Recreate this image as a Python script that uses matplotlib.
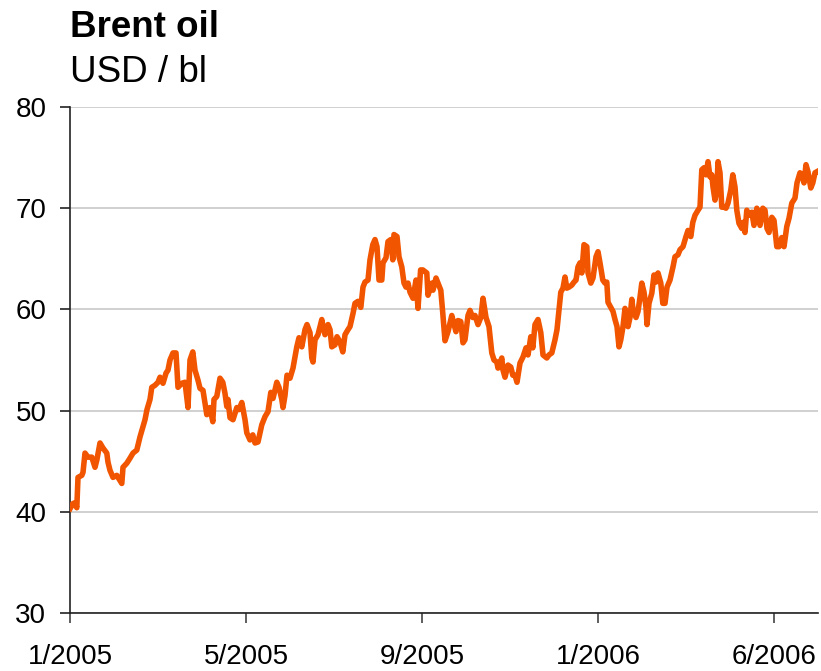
import matplotlib
matplotlib.use("Agg")
import matplotlib.pyplot as plt

# (trading day since 3 Jan 2005, Brent USD/bl)
readings = [
    (0, 40.3), (1.4, 40.8), (2.5, 40.9), (3.4, 40.4), (4, 43.4), (5.9, 43.6),
    (6.5, 43.9), (7.5, 45.8), (9, 45.4), (10.9, 45.4), (12.5, 44.4), (13.4, 45.1),
    (15, 46.8), (16.5, 46.3), (18.4, 45.8), (19, 44.9), (20, 44.1), (21.5, 43.4),
    (23.4, 43.6), (25, 43.1), (25.9, 42.8), (26.5, 44.4), (28.4, 44.8), (30, 45.3),
    (31.5, 45.8), (33.4, 46.1), (35, 47.4), (36.5, 48.4), (37.5, 49.1), (38.5, 50.1),
    (40, 51.1), (40.9, 52.3), (42.5, 52.5), (44, 52.8), (45, 53.3), (46.5, 52.7),
    (48, 53.7), (49, 54.0), (50, 55.0), (51.5, 55.7), (53, 55.7), (54, 52.3),
    (55.9, 52.7), (57.5, 52.8), (59, 50.3), (60, 55.0), (61.4, 55.8), (62.5, 54.0),
    (64, 53.0), (65, 52.2), (66.5, 52.0), (67.5, 50.7), (68.4, 49.6), (70, 50.3),
    (71.4, 48.9), (72, 51.1), (73.4, 51.4), (75, 53.2), (76.4, 52.8), (77.5, 51.7),
    (78.4, 50.4), (79, 51.1), (80, 49.3), (81.5, 49.1), (83.4, 50.3), (84.5, 50.1),
    (85.9, 50.8), (87.5, 49.1), (88.4, 47.8), (90, 47.1), (91.4, 47.6), (92.5, 46.8),
    (94, 46.9), (95, 47.8), (95.9, 48.6), (97.5, 49.4), (99, 49.9), (100.4, 51.8),
    (101.5, 51.2), (103.4, 52.8), (104.5, 52.3), (105.9, 51.1), (106.5, 50.3),
    (107.5, 51.5), (108.5, 53.5), (110, 53.2), (111.5, 54.2), (113.4, 56.3),
    (114.5, 57.2), (115.9, 56.3), (117.5, 58.0), (118.5, 58.5), (120, 57.7),
    (120.9, 55.2), (121.5, 54.8), (122.5, 57.0), (124, 57.5), (125.9, 59.0),
    (126.5, 58.3), (127.5, 57.5), (129, 58.5), (130, 58.0), (130.9, 56.3),
    (132.5, 56.5), (133.5, 57.3), (135, 56.8), (136.4, 55.8), (137.5, 57.5),
    (139, 58.0), (140, 58.3), (141.5, 59.6), (142.5, 60.6), (144, 60.8),
    (145.4, 60.2), (146.5, 62.2), (147.5, 62.7), (149, 62.9), (150, 64.9),
    (151.4, 66.4), (152.5, 66.9), (153.5, 66.2), (154.5, 62.9), (155.9, 62.9),
    (156.5, 64.6), (158, 65.1), (159, 66.7), (160.4, 66.9), (161.4, 64.9),
    (162, 67.4), (163.5, 67.2), (164.5, 65.2), (165.9, 64.2), (167, 62.6),
    (168, 62.2), (169, 62.6), (170, 61.7), (171.5, 61.1), (173, 62.9), (174, 60.1),
    (175.3, 63.9), (176.4, 63.9), (178.4, 63.6), (179, 61.4), (180.9, 62.6),
    (181.5, 61.9), (183, 63.1), (184, 62.6), (185.4, 61.9), (186.4, 59.6),
    (187.5, 56.9), (189, 57.8), (190.9, 59.4), (191.5, 58.9), (193, 57.8),
    (194, 58.9), (195.4, 58.8), (196.5, 56.7), (197.5, 57.0), (199, 59.4),
    (200, 59.9), (201.4, 59.2), (202.5, 59.4), (204, 58.5), (205.4, 59.2),
    (206.5, 61.1), (208, 59.2), (209.5, 58.3), (210.9, 55.7), (212, 55.0),
    (213.4, 54.8), (214, 54.2), (215.9, 55.2), (216.5, 54.0), (217.5, 53.3),
    (219, 54.5), (220.4, 54.3), (221.4, 53.5), (222.5, 53.5), (223.5, 52.8),
    (225, 54.7), (226.5, 55.3), (228, 56.2), (229, 55.5), (230.4, 57.3),
    (231.4, 56.2), (232.5, 58.5), (234, 59.0), (235.4, 57.7), (236.5, 55.5),
    (238.4, 55.2), (239.5, 55.5), (240.9, 55.7), (242.5, 57.0), (243.5, 58.0),
    (244.5, 60.0), (245.4, 61.7), (246.5, 62.1), (247.5, 63.2), (248.4, 62.1),
    (249.5, 62.2), (250.9, 62.4), (252, 62.7), (253, 62.9), (254, 64.2),
    (255, 64.6), (255.9, 63.6), (257, 66.4), (258.4, 66.2), (259, 63.6),
    (260.4, 62.6), (261.5, 63.1), (263, 65.2), (264, 65.7), (265, 64.6),
    (266.4, 62.9), (267.5, 62.6), (268.4, 62.7), (269, 60.7), (270.4, 60.2),
    (271.5, 59.8), (272.5, 59.0), (273.5, 58.3), (274.5, 56.3), (275.4, 57.0),
    (276.5, 58.3), (277.5, 60.1), (278.4, 59.2), (279, 58.3), (280, 59.2),
    (280.9, 61.0), (281.5, 60.0), (283, 59.2), (284, 59.8), (285, 61.2),
    (285.9, 62.6), (287, 61.7), (288, 60.2), (288.5, 58.5), (289.5, 60.6),
    (290.9, 61.6), (292, 63.4), (293, 62.7), (294, 63.6), (295.4, 62.6),
    (296.4, 60.6), (297.5, 60.6), (298.5, 62.2), (300, 62.9), (301.5, 64.2),
    (302.5, 65.2), (304, 65.4), (305, 65.9), (306.5, 66.2), (308, 67.2),
    (309, 67.8), (310.4, 67.2), (311.4, 68.6), (312.5, 69.3), (314, 69.8),
    (315, 70.1), (315.9, 73.8), (317, 74.0), (318, 73.3), (319, 74.6),
    (320, 73.1), (320.9, 73.3), (321.5, 72.1), (322.5, 70.8), (323.4, 71.8),
    (324, 74.6), (325, 73.5), (325.9, 70.1), (327, 70.1), (328, 70.0),
    (329, 70.5), (330.4, 71.8), (331.4, 73.3), (332.5, 72.1), (333.4, 69.8),
    (334.5, 68.5), (335.9, 68.0), (336.5, 68.6), (337.5, 67.6), (338.4, 69.8),
    (339.5, 69.3), (340.9, 69.6), (342, 68.3), (343.4, 70.0), (344, 69.6),
    (345, 68.3), (346.4, 70.0), (347.5, 69.8), (348.5, 68.0), (349.5, 67.6),
    (350.9, 69.1), (352, 68.8), (353.4, 66.2), (354.5, 66.2), (355.9, 67.1),
    (357, 66.2), (358.4, 68.2), (359.5, 69.0), (360.9, 70.5), (362.5, 71.0),
    (363.5, 72.5), (365, 73.5), (366.4, 73.1), (367, 72.5), (368, 74.3),
    (369, 73.6), (370.4, 72.0), (371.4, 72.5), (372.5, 73.5), (373.4, 73.6),
]
days = [d for d, _ in readings]
brent = [v for _, v in readings]

tick_days = [0, 88, 176, 264, 352]
tick_labels = ["1/2005", "5/2005", "9/2005", "1/2006", "6/2006"]
y_ticks = [30, 40, 50, 60, 70, 80]

plt.rcParams["font.family"] = ["Liberation Sans", "DejaVu Sans"]

fig = plt.figure(figsize=(8.21, 6.71), dpi=100)
ax = fig.add_axes([70 / 821, 1 - 613 / 671, 748 / 821, 506 / 671])

ax.plot(days, brent, color="#F25500", linewidth=4.0, solid_joinstyle="round",
        zorder=3)

ax.set_xlim(0, 374)
ax.set_ylim(30, 80)
ax.set_yticks(y_ticks)
ax.set_xticks(tick_days)
ax.set_xticklabels(tick_labels)
ax.yaxis.grid(True, color="#c8c8c8", linewidth=1.2)
ax.set_axisbelow(True)

for s in ["top", "right"]:
    ax.spines[s].set_visible(False)
for s in ["left", "bottom"]:
    ax.spines[s].set_color("#222222")
    ax.spines[s].set_linewidth(1.2)

ax.tick_params(axis="y", length=7, width=1.2, color="#222222", pad=10,
               labelsize=20)
ax.tick_params(axis="x", length=7, width=1.2, color="#444444", pad=15,
               labelsize=20)

fig.text(70 / 821, 1 - 37 / 671, "Brent oil", fontsize=26.5, fontweight="bold",
         ha="left", va="baseline")
fig.text(70 / 821, 1 - 82 / 671, "USD / bl", fontsize=26.5,
         ha="left", va="baseline")

fig.savefig("out.png", dpi=100)
